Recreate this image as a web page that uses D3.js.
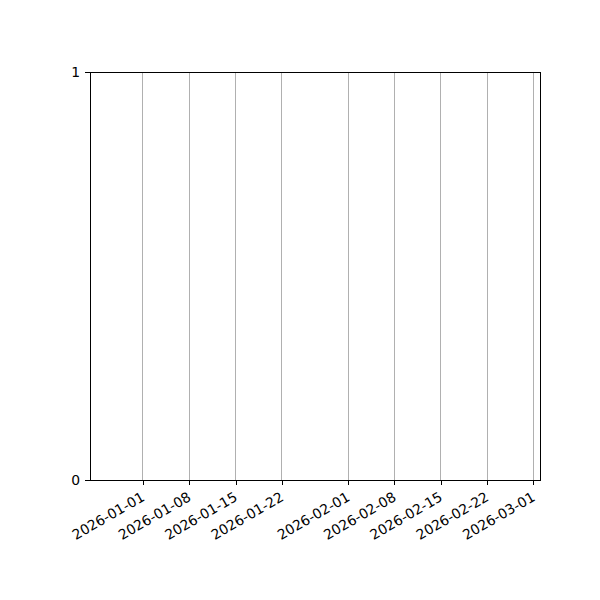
<!DOCTYPE html>
<html>
<head>
<meta charset="utf-8">
<script src="https://cdn.jsdelivr.net/npm/d3@7"></script>
<style>
  body { margin: 0; background: #fff; }
  text { font-family: "DejaVu Sans", sans-serif; }
  line, rect { shape-rendering: crispEdges; }
</style>
</head>
<body>
<div class="container"></div>
<script>
// Axis data
const xDomain = ["2025-12-24", "2026-03-02"];
const xTicks = ["2026-01-01", "2026-01-08", "2026-01-15", "2026-01-22",
                "2026-02-01", "2026-02-08", "2026-02-15", "2026-02-22", "2026-03-01"];
const yDomain = [0, 1];
const yTicks = [0, 1];

const parseDay = d3.timeParse("%Y-%m-%d");
const fmtDay = d3.timeFormat("%Y-%m-%d");

// Dimensions
const w = 600, h = 600;
const margin = {top: 72, right: 60, bottom: 120, left: 90};
const fontPx = 13.9;
const tickLen = 4.9;
const tickPad = 4.9;

const xScale = d3.scaleTime()
  .domain(xDomain.map(parseDay))
  .range([margin.left, w - margin.right]);

const yScale = d3.scaleLinear()
  .domain(yDomain)
  .range([h - margin.bottom, margin.top]);

const svg = d3.select(".container")
  .append("svg")
  .attr("width", w)
  .attr("height", h);

// Vertical grid lines at x ticks
svg.append("g")
  .selectAll("line")
  .data(xTicks.map(parseDay))
  .enter()
  .append("line")
  .attr("x1", d => xScale(d))
  .attr("x2", d => xScale(d))
  .attr("y1", margin.top)
  .attr("y2", h - margin.bottom)
  .attr("stroke", "#b0b0b0")
  .attr("stroke-width", 1);

// x-axis
const xAxis = d3.axisBottom(xScale)
  .tickValues(xTicks.map(parseDay))
  .tickFormat(fmtDay)
  .tickSize(tickLen)
  .tickSizeOuter(0)
  .tickPadding(tickPad);

const xAxisGroup = svg.append("g")
  .attr("id", "x-axis")
  .attr("transform", `translate(0,${h - margin.bottom})`)
  .call(xAxis);

xAxisGroup.select(".domain").remove();
xAxisGroup.selectAll(".tick line").attr("stroke", "#000").attr("stroke-width", 1);
xAxisGroup.selectAll(".tick text")
  .style("font-size", fontPx + "px")
  .attr("fill", "#000")
  .attr("text-anchor", "end")
  .attr("y", 0)
  .attr("dy", "0.75em")
  .attr("transform", `translate(-3,${tickLen + tickPad + 1}) rotate(-30)`);

// y-axis
const yAxis = d3.axisLeft(yScale)
  .tickValues(yTicks)
  .tickFormat(d3.format("d"))
  .tickSize(tickLen)
  .tickSizeOuter(0)
  .tickPadding(tickPad);

const yAxisGroup = svg.append("g")
  .attr("id", "y-axis")
  .attr("transform", `translate(${margin.left},0)`)
  .call(yAxis);

yAxisGroup.select(".domain").remove();
yAxisGroup.selectAll(".tick line").attr("stroke", "#000").attr("stroke-width", 1);
yAxisGroup.selectAll(".tick text")
  .style("font-size", fontPx + "px")
  .attr("fill", "#000");

// Frame (spines)
svg.append("rect")
  .attr("x", margin.left)
  .attr("y", margin.top)
  .attr("width", w - margin.left - margin.right)
  .attr("height", h - margin.top - margin.bottom)
  .attr("fill", "none")
  .attr("stroke", "#000")
  .attr("stroke-width", 1);
</script>
</body>
</html>
